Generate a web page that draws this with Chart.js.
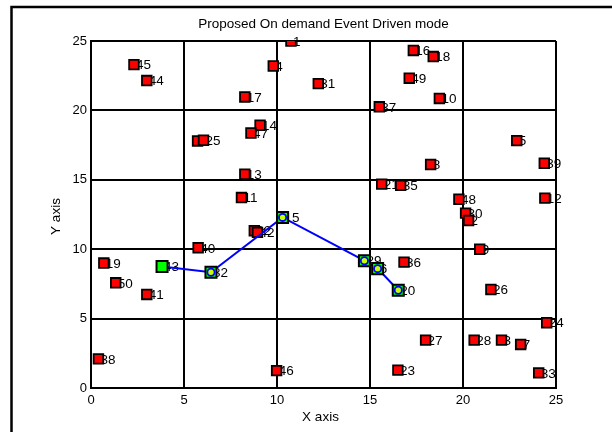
<!DOCTYPE html>
<html>
<head>
<meta charset="utf-8">
<script src="https://cdn.jsdelivr.net/npm/chart.js@4.4.0/dist/chart.umd.min.js"></script>
<style>
  html, body { margin: 0; padding: 0; background: #fff; }
  #wrap { width: 612px; height: 432px; }
</style>
</head>
<body>
<div id="wrap"><canvas id="chart" width="612" height="432"></canvas></div>
<script>
// sensor nodes (red squares)
const nodeX = [2.31, 3.0, 8.27, 9.8, 10.75, 12.22, 17.33, 18.4, 17.11, 18.73, 15.5, 9.09, 8.6, 5.73, 6.05,
  8.27, 8.09, 8.78, 8.95, 5.76, 0.69, 1.33, 3.0, 0.4, 9.98, 16.5, 24.07, 15.63, 16.65, 19.78, 24.4,
  20.14, 20.3, 20.9, 16.83, 21.5, 24.5, 17.99, 20.6, 22.07, 23.1, 22.89, 24.37, 18.26];
const nodeY = [23.3, 22.15, 20.97, 23.2, 25.0, 21.93, 24.32, 23.88, 22.32, 20.86, 20.26, 18.93, 18.37, 17.8, 17.85,
  15.4, 13.72, 11.33, 11.21, 10.1, 9.0, 7.58, 6.74, 2.1, 1.25, 1.29, 1.09, 14.69, 14.6, 13.6, 13.68,
  12.6, 12.07, 10.0, 9.07, 7.1, 4.7, 3.45, 3.45, 3.45, 3.14, 17.82, 16.19, 16.1];
const nodeLabels = ['45', '44', '17', '4', '1', '31', '16', '18', '49', '10', '37', '14', '47', '5', '25',
  '13', '11', '22', '42', '40', '19', '50', '41', '38', '46', '23', '33', '21', '35', '48', '12',
  '30', '2', '9', '36', '26', '24', '27', '28', '3', '7', '5', '39', '8'];

// event driven route (green squares)
const pathX = [3.82, 6.45, 10.3, 14.7, 15.41, 16.52];
const pathY = [8.75, 8.34, 12.29, 9.17, 8.6, 7.04];
const pathLabels = ['43', '32', '15', '29', '6', '20'];

const axisMin = 0;
const axisMax = 25;
const axisStep = 5;

const FONT = 'Liberation Sans, Arial, sans-serif';

const toPoints = (xs, ys) => xs.map((x, i) => ({ x: x, y: ys[i] }));

// labels go under the markers, like the original plot
const nodeLabelPlugin = {
  id: 'nodeLabels',
  beforeDatasetsDraw(chart) {
    const ctx = chart.ctx;
    const sx = chart.scales.x, sy = chart.scales.y;
    ctx.save();
    ctx.font = '13.5px ' + FONT;
    ctx.fillStyle = '#000';
    ctx.textAlign = 'left';
    ctx.textBaseline = 'middle';
    nodeX.forEach((x, i) => {
      ctx.fillText(nodeLabels[i], sx.getPixelForValue(x) + 2, sy.getPixelForValue(nodeY[i]) + 1);
    });
    pathX.forEach((x, i) => {
      ctx.fillText(pathLabels[i], sx.getPixelForValue(x) + 2, sy.getPixelForValue(pathY[i]) + 1);
    });
    ctx.restore();
  }
};

const framePlugin = {
  id: 'frame',
  beforeDraw(chart) {
    const ctx = chart.ctx;
    ctx.save();
    ctx.fillStyle = '#fff';
    ctx.fillRect(0, 0, chart.width, chart.height);
    ctx.strokeStyle = '#000';
    ctx.lineWidth = 2.5;
    ctx.beginPath();
    ctx.moveTo(11.5, chart.height);
    ctx.lineTo(11.5, 7);
    ctx.lineTo(chart.width, 7);
    ctx.stroke();
    ctx.restore();
  },
  afterDraw(chart) {
    const ctx = chart.ctx;
    const a = chart.chartArea;
    const cx = (a.left + a.right) / 2;
    ctx.save();
    ctx.fillStyle = '#000';
    ctx.font = '13.5px ' + FONT;
    ctx.textAlign = 'center';
    ctx.textBaseline = 'middle';
    ctx.fillText('Proposed On demand Event Driven mode', cx, 24);
    ctx.fillText('X axis', cx - 3, 417);
    ctx.translate(56, (a.top + a.bottom) / 2 + 2);
    ctx.rotate(-Math.PI / 2);
    ctx.fillText('Y axis', 0, 0);
    ctx.restore();
  }
};

const axis = (fit) => ({
  type: 'linear',
  min: axisMin,
  max: axisMax,
  ticks: { stepSize: axisStep, color: '#000', font: { family: FONT, size: 13 }, padding: 4 },
  grid: { color: '#000', lineWidth: 2, drawTicks: false },
  border: { display: true, color: '#000', width: 2 },
  afterFit: fit
});

const xAxis = axis(s => { s.height = 44; });
xAxis.ticks.padding = 5;

new Chart(document.getElementById('chart'), {
  type: 'scatter',
  data: {
    datasets: [{
      label: 'route marks',
      data: toPoints(pathX.slice(1), pathY.slice(1)),
      order: 1,
      pointStyle: 'circle',
      pointRadius: 3.6,
      pointBackgroundColor: '#c8ff00',
      pointBorderColor: '#0000ff',
      pointBorderWidth: 1.8
    }, {
      label: 'route',
      data: toPoints(pathX, pathY),
      order: 2,
      showLine: true,
      borderColor: '#0000ff',
      borderWidth: 2,
      pointStyle: 'rect',
      pointRadius: 7.8,
      pointBackgroundColor: '#00ff00',
      pointBorderColor: '#000',
      pointBorderWidth: 2
    }, {
      label: 'nodes',
      data: toPoints(nodeX, nodeY),
      order: 3,
      pointStyle: 'rect',
      pointRadius: 6.8,
      pointBackgroundColor: '#ff0000',
      pointBorderColor: '#000',
      pointBorderWidth: 1.8
    }]
  },
  options: {
    responsive: false,
    animation: false,
    devicePixelRatio: 1,
    layout: { padding: { left: 0, right: 56, top: 41, bottom: 0 } },
    plugins: {
      legend: { display: false },
      tooltip: { enabled: false }
    },
    scales: {
      x: xAxis,
      y: axis(s => { s.width = 91; })
    }
  },
  plugins: [nodeLabelPlugin, framePlugin]
});
</script>
</body>
</html>
